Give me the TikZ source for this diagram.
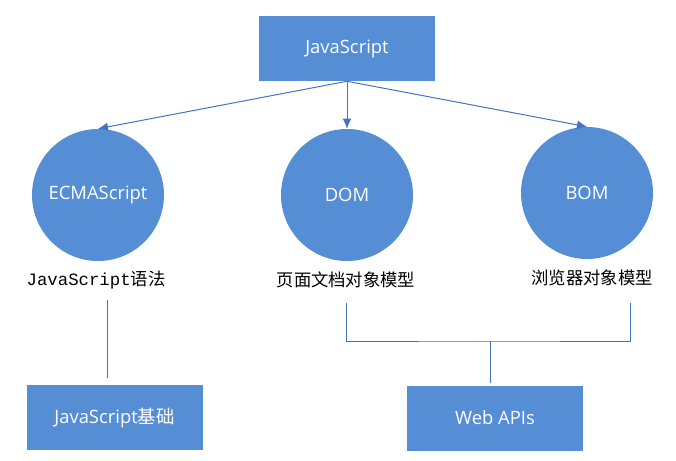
\documentclass[tikz,border=0pt]{standalone}
\usepackage{fontspec}
\setmainfont{Open Sans}
\newfontfamily\cjk{Noto Sans CJK SC}
\newfontfamily\mono{Liberation Mono}
\usetikzlibrary{arrows.meta}
\definecolor{boxblue}{HTML}{558ED5}
\definecolor{lineblue}{HTML}{4472C4}

\begin{document}
\begin{tikzpicture}[x=0.75pt,y=-0.75pt]
\tikzset{boite/.style={fill=boxblue, minimum width=132pt, minimum height=48.75pt, inner sep=0pt, text=white, font=\fontsize{13.8}{16}\selectfont}}
\tikzset{rond/.style={circle, fill=boxblue, minimum size=99pt, inner sep=0pt, text=white, font=\fontsize{13.8}{16}\selectfont}}
\tikzset{legende/.style={inner sep=0pt, font=\cjk\fontsize{13}{15}\selectfont}}
\tikzset{lien/.style={draw=lineblue, line width=0.75pt}}
\tikzset{fleche/.style={lien, -{Latex[length=7.5pt,width=6.5pt]}}}
\useasboundingbox (0,0) rectangle (676,461);
\node[boite] (JS) at (347,48.5) {JavaScript};
\node[rond] (ECMA) at (98,195) {ECMAScript};
\node[rond] (DOM) at (347,195) {DOM};
\node[rond] (BOM) at (587,193) {BOM};
\node[legende] (Syntaxe) at (96,280) {{\mono JavaScript}语法};
\node[legende] (Page) at (346,280) {页面文档对象模型};
\node[legende] (Nav) at (592,278) {浏览器对象模型};
\node[boite] (Base) at (114.5,417.5) {JavaScript{\cjk 基础}};
\node[boite] (API) at (495,418) {Web APIs};
\draw[fleche] (JS.south) -- (ECMA.north);
\draw[fleche] (JS.south) -- (DOM.north);
\draw[fleche] (JS.south) -- (BOM.north);
\coordinate (T1) at (107,300);
\draw[lien, shorten >=5.25pt] (T1) -- (T1 |- Base.north);
\coordinate (G) at (346,303);
\coordinate (D) at (630,303);
\coordinate (M) at (490,341);
\draw[lien] (G) |- (M) -| (D);
\draw[lien, shorten >=1.5pt] (M) -- (M |- API.north);
\end{tikzpicture}
\end{document}
